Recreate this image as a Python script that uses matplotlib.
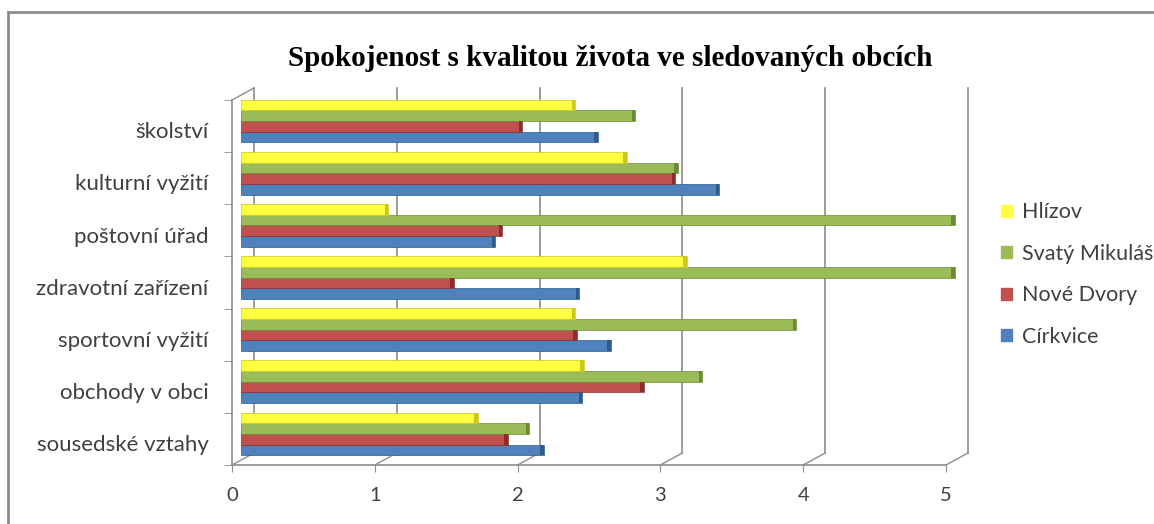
import matplotlib.pyplot as plt
from matplotlib.patches import Rectangle
from matplotlib.lines import Line2D

# data (bottom to top as drawn)
categories = ["sousedské vztahy", "obchody v obci", "sportovní vyžití",
              "zdravotní zařízení", "poštovní úřad", "kulturní vyžití", "školství"]
cirkvice = [2.12, 2.39, 2.59, 2.37, 1.78, 3.35, 2.50]
nove_dvory = [1.87, 2.82, 2.35, 1.49, 1.83, 3.04, 1.97]
svaty_mikulas = [2.02, 3.23, 3.89, 5.0, 5.0, 3.06, 2.76]
hlizov = [1.66, 2.40, 2.34, 3.12, 1.03, 2.70, 2.34]

series = [("Církvice", cirkvice, "#4F81BD", "#2E5A8C"),
          ("Nové Dvory", nove_dvory, "#C0504D", "#8B2E2B"),
          ("Svatý Mikuláš", svaty_mikulas, "#9BBB59", "#6A8A33"),
          ("Hlízov", hlizov, "#FFFF40", "#C8C820")]
xticks = [0, 1, 2, 3, 4, 5]

W, H = 1154, 524
fig = plt.figure(figsize=(W / 100, H / 100), dpi=100)
ax = fig.add_axes([232 / W, 59 / H, 714 / W, 365 / H])
ax.set_xlim(0, 5)
ax.set_ylim(-0.5, 6.5)

# pixel -> data unit conversion for the fake 3d depth
px_x = 5 / 714
px_y = 7 / 365
back_dx, back_dy = 22 * px_x, 12 * px_y
bar_dx, bar_dy = 9 * px_x, 5 * px_y

grid_c = "#8C8C8C"
# back wall gridlines + diagonals
for v in xticks:
    ax.plot([v + back_dx, v + back_dx], [-0.5 + back_dy, 6.5 + back_dy],
            color=grid_c, lw=1.2, zorder=1, clip_on=False)
    ax.plot([v, v + back_dx], [-0.5, -0.5 + back_dy],
            color=grid_c, lw=1.0, zorder=1, clip_on=False)
ax.plot([0, back_dx], [6.5, 6.5 + back_dy], color=grid_c, lw=1.0, zorder=1, clip_on=False)

# bars
bh = 0.205
for k, (name, vals, col, dark) in enumerate(series):
    off = (k - 1.5) * bh
    ys = [i + off + bar_dy for i in range(len(categories))]
    lefts = [bar_dx] * len(vals)
    ax.barh(ys, vals, height=bh, left=lefts, color=col, edgecolor=dark,
            linewidth=0.5, zorder=3, clip_on=False, label=name)
    ax.barh(ys, [0.025] * len(vals), height=bh,
            left=[v + bar_dx - 0.025 for v in vals], color=dark,
            linewidth=0, zorder=4, clip_on=False)

# axes styling
for s in ["top", "right"]:
    ax.spines[s].set_visible(False)
for s in ["left", "bottom"]:
    ax.spines[s].set_color(grid_c)
    ax.spines[s].set_linewidth(1.2)
ax.set_xticks(xticks)
ax.set_xticklabels([str(v) for v in xticks], fontsize=14.5, color="#404040",
                   family="Lato")
ax.tick_params(axis="x", length=5, color=grid_c, pad=11)
ax.set_yticks([i - 0.08 for i in range(len(categories))])
ax.set_yticklabels(categories, fontsize=16, color="#404040", family="Lato")
ax.tick_params(axis="y", length=0, pad=17)
ax.set_yticks([i - 0.5 for i in range(len(categories) + 1)], minor=True)
ax.tick_params(axis="y", which="minor", length=6, color=grid_c)
ax.set_facecolor("none")

fig.text(610 / W, 1 - 58 / H, "Spokojenost s kvalitou života ve sledovaných obcích",
         ha="center", va="center", fontsize=21, fontweight="bold",
         family="Liberation Serif")

handles = [Rectangle((0, 0), 1, 1, color=c) for _, _, c, _ in series][::-1]
labels = [n for n, _, _, _ in series][::-1]
fig.legend(handles, labels, loc="upper left", bbox_to_anchor=(982 / W, 1 - 183 / H),
           frameon=False, handlelength=0.5, handleheight=0.5, handletextpad=0.45,
           labelspacing=1.0, prop={"family": "Lato", "size": 15.5},
           labelcolor="#404040")

# chart border
fig.add_artist(Line2D([8 / W, 8 / W], [0, 1 - 12 / H], color="#8C8C8C", lw=2,
                      transform=fig.transFigure))
fig.add_artist(Line2D([8 / W, 1], [1 - 12 / H, 1 - 12 / H], color="#8C8C8C", lw=2,
                      transform=fig.transFigure))

fig.savefig("out.png", dpi=100)
